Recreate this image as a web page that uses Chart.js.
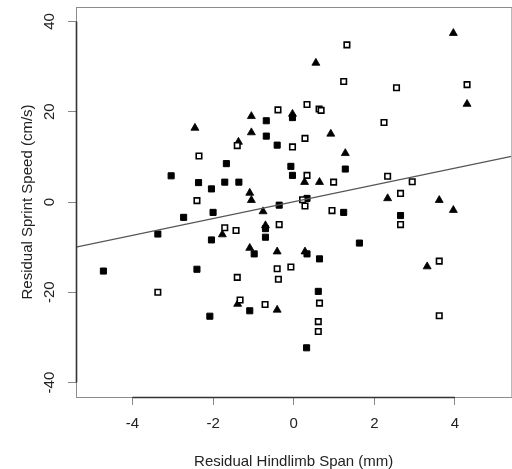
<!DOCTYPE html>
<html>
<head>
<meta charset="utf-8">
<script src="https://cdn.jsdelivr.net/npm/chart.js@4/dist/chart.umd.min.js"></script>
<style>
html,body{margin:0;padding:0;overflow:hidden;background:#fff;}
canvas{display:block;}
</style>
</head>
<body>
<canvas id="c" width="517" height="469"></canvas>
<script>
// Data
const filledSquares = [
  [-0.03,18.7],[-0.68,18.0],[-0.68,14.6],[-0.41,12.6],[-3.04,5.8],[-2.36,4.3],
  [-2.73,-3.4],[-3.37,-7.1],[-4.72,-15.3],[-2.40,-14.9],[1.28,7.3],[-1.67,8.5],
  [-0.07,7.9],[-0.03,5.9],[-1.71,4.4],[-1.36,4.4],[-2.04,2.9],[-0.36,-0.7],
  [0.33,0.8],[-2.00,-2.3],[1.24,-2.3],[-2.04,-8.4],[-0.70,-5.9],[-0.70,-7.8],
  [-0.98,-11.5],[0.33,-11.5],[0.64,-12.6],[0.61,-19.8],[-1.09,-24.1],[0.32,-32.3],
  [-2.08,-25.3],[2.65,-3.0],[1.63,-9.1]
];
const openSquares = [
  [1.32,34.8],[1.24,26.7],[0.33,21.6],[-0.39,20.4],[0.63,20.6],[0.68,20.3],
  [0.28,14.1],[-0.03,12.2],[-1.40,12.5],[4.30,26.0],[2.55,25.3],[2.24,17.6],
  [-2.35,10.2],[-2.40,0.3],[-3.37,-20.0],[0.33,5.9],[0.99,4.4],[0.22,0.5],
  [0.28,-0.9],[0.95,-1.9],[-1.71,-5.7],[-1.43,-6.3],[-0.36,-5.0],[-0.41,-14.8],
  [-0.07,-14.4],[-1.40,-16.7],[-0.38,-17.1],[-1.33,-21.7],[-0.71,-22.7],[0.64,-22.4],
  [0.61,-26.5],[0.61,-28.7],[3.61,-25.2],[2.33,5.7],[2.94,4.5],[2.65,1.9],
  [2.65,-5.0],[3.61,-13.1]
];
const triangles = [
  [-2.45,16.4],[0.55,30.8],[-1.05,19.0],[-0.03,19.5],[-1.05,15.4],[0.92,15.1],
  [-1.37,13.3],[3.96,37.4],[4.30,21.7],[1.28,10.8],[0.27,4.4],[0.64,4.4],
  [-1.09,2.0],[-1.05,0.4],[-0.76,-2.1],[-1.77,-7.2],[-0.70,-5.2],[-1.09,-10.2],
  [-0.41,-11.0],[0.28,-11.0],[-1.39,-22.6],[-0.41,-23.9],[2.33,0.8],[3.61,0.4],
  [3.96,-1.8],[3.31,-14.3]
];
const fitLineX = [-5.4, 5.4];
const fitLineY = [-10.0, 10.1];
const xTicks = [-4, -2, 0, 2, 4];
const yTicks = [-40, -20, 0, 20, 40];
const xTitle = 'Residual Hindlimb Span (mm)';
const yTitle = 'Residual Sprint Speed (cm/s)';

const toPts = arr => arr.map(p => ({x: p[0], y: p[1]}));
const FONT = '"Liberation Sans", Arial, sans-serif';

const framePlugin = {
  id: 'frame',
  afterDatasetsDraw(chart) {
    const {ctx, chartArea: a, scales: {x, y}} = chart;
    ctx.save();
    ctx.strokeStyle = '#8c8c8c';
    ctx.lineWidth = 1;
    ctx.strokeRect(a.left + 0.5, a.top + 0.5, a.right - a.left, a.bottom - a.top);
    ctx.strokeStyle = '#333';
    ctx.lineWidth = 1.6;
    ctx.beginPath();
    ctx.moveTo(x.getPixelForValue(xTicks[0]), a.bottom + 0.5);
    ctx.lineTo(x.getPixelForValue(xTicks[xTicks.length - 1]), a.bottom + 0.5);
    ctx.moveTo(a.left + 0.5, y.getPixelForValue(yTicks[0]));
    ctx.lineTo(a.left + 0.5, y.getPixelForValue(yTicks[yTicks.length - 1]));
    ctx.stroke();
    // rotated y tick labels
    ctx.fillStyle = '#222';
    ctx.font = '15px ' + FONT;
    ctx.textAlign = 'center';
    ctx.textBaseline = 'middle';
    y.ticks.forEach(t => {
      const py = y.getPixelForValue(t.value);
      ctx.save();
      ctx.translate(50, py);
      ctx.rotate(-Math.PI / 2);
      ctx.fillText(String(t.value), 0, 0);
      ctx.restore();
    });
    ctx.restore();
  }
};

new Chart(document.getElementById('c'), {
  type: 'scatter',
  data: {
    datasets: [
      {
        label: 'fit', type: 'line', showLine: true,
        data: fitLineX.map((v, i) => ({x: v, y: fitLineY[i]})),
        borderColor: '#555', borderWidth: 1.2, pointRadius: 0, fill: false
      },
      {
        label: 'open', data: toPts(openSquares), pointStyle: 'rect',
        pointRadius: 3.9, backgroundColor: '#fff', borderColor: '#000', borderWidth: 1.6
      },
      {
        label: 'filled', data: toPts(filledSquares), pointStyle: 'rect',
        pointRadius: 4.3, backgroundColor: '#000', borderColor: '#000', borderWidth: 1
      },
      {
        label: 'tri', data: toPts(triangles), pointStyle: 'triangle',
        pointRadius: 4.6, backgroundColor: '#000', borderColor: '#000', borderWidth: 0.8
      }
    ]
  },
  options: {
    responsive: false,
    animation: false,
    devicePixelRatio: 1,
    layout: {padding: {top: 7, left: 0, right: 0, bottom: 0}},
    plugins: {legend: {display: false}, tooltip: {enabled: false}},
    scales: {
      x: {
        type: 'linear', min: -5.4, max: 5.4,
        afterBuildTicks: s => { s.ticks = xTicks.map(v => ({value: v})); },
        afterFit: s => { s.height = 72; },
        ticks: {color: '#222', font: {family: FONT, size: 15}, padding: 10, includeBounds: false},
        grid: {display: true, drawOnChartArea: false, drawTicks: true, tickLength: 8, color: '#888', lineWidth: 1},
        border: {display: false},
        title: {display: true, text: xTitle, color: '#222', font: {family: FONT, size: 15, lineHeight: 1}, padding: {top: 0, bottom: 0}}
      },
      y: {
        type: 'linear', min: -43.2, max: 43.2,
        afterBuildTicks: s => { s.ticks = yTicks.map(v => ({value: v})); },
        afterFit: s => { s.width = 76; },
        ticks: {display: false, includeBounds: false},
        grid: {display: true, drawOnChartArea: false, drawTicks: true, tickLength: 8, color: '#888', lineWidth: 1},
        border: {display: false},
        title: {display: true, text: yTitle, color: '#222', font: {family: FONT, size: 15, lineHeight: 1}, padding: {top: 20, bottom: 0}}
      }
    }
  },
  plugins: [framePlugin]
});
</script>
</body>
</html>
